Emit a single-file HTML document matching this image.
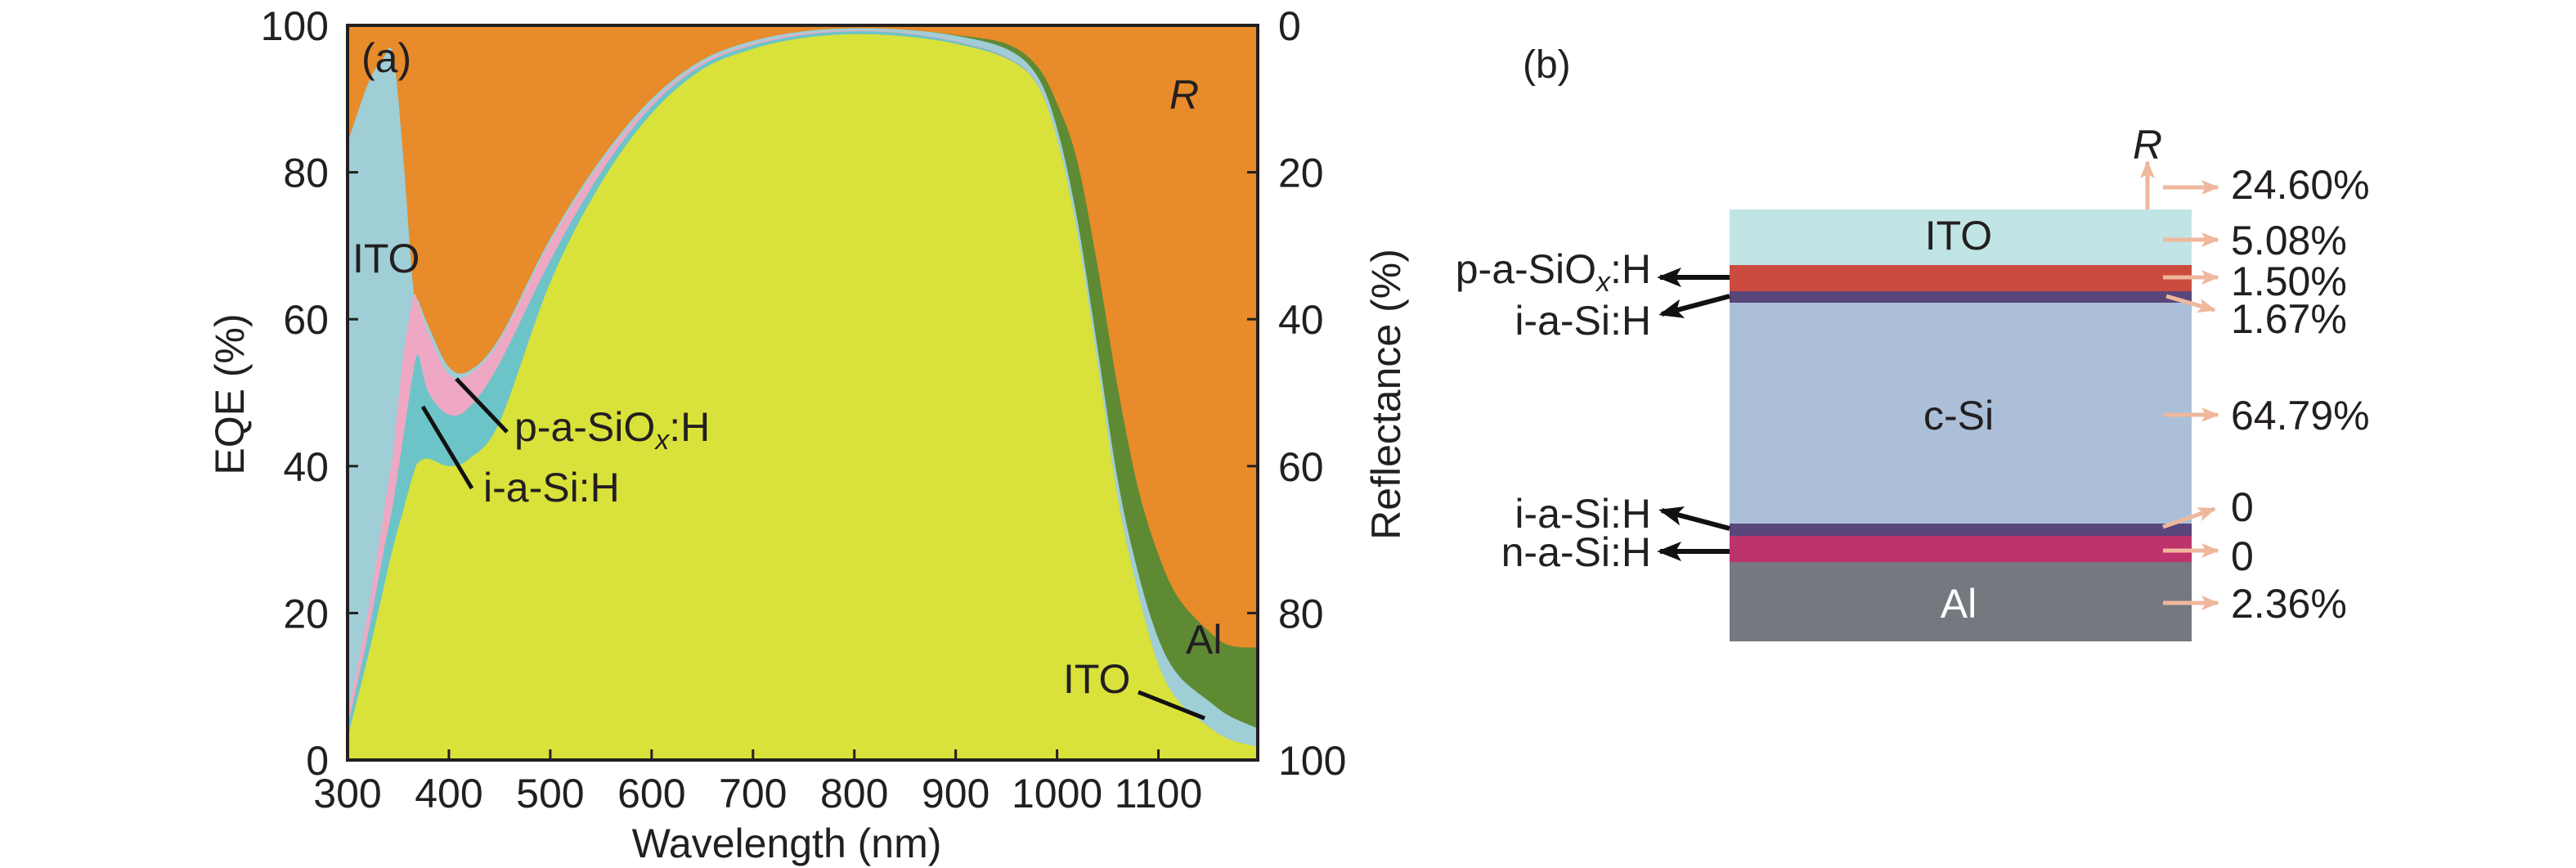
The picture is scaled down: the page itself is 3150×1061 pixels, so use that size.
<!DOCTYPE html>
<html><head><meta charset="utf-8"><style>
body{margin:0;background:#fff;}
svg{display:block;font-family:"Liberation Sans",sans-serif;}
</style></head><body>
<svg id="fig" width="3150" height="1061" viewBox="0 0 3150 1061">
<defs>
  <marker id="bk" markerUnits="userSpaceOnUse" markerWidth="30" markerHeight="24" refX="26" refY="12" orient="auto"><path d="M0,0 L30,12 L0,24 L7,12Z" fill="#111"/></marker>
  <marker id="pk" markerUnits="userSpaceOnUse" markerWidth="22" markerHeight="18" refX="20" refY="9" orient="auto"><path d="M0,0 L22,9 L0,18 L5,9Z" fill="#efb79c"/></marker>
</defs>
<g id="chartA"></g>
<g id="panelB">
 <text x="1862" y="95" font-size="48" fill="#231f20">(b)</text>
 <rect x="2115" y="256" width="565" height="68" fill="#c1e5e5"/>
 <rect x="2115" y="324" width="565" height="32" fill="#cb4c3f"/>
 <rect x="2115" y="356" width="565" height="14" fill="#59467a"/>
 <rect x="2115" y="370" width="565" height="270" fill="#abbfd8"/>
 <rect x="2115" y="640" width="565" height="15" fill="#59467a"/>
 <rect x="2115" y="655" width="565" height="32" fill="#bd336c"/>
 <rect x="2115" y="687" width="565" height="97" fill="#75787f"/>
 <g font-size="50" fill="#231f20" text-anchor="middle">
  <text x="2395" y="305">ITO</text>
  <text x="2395" y="525">c-Si</text>
  <text x="2395" y="755" fill="#fff">Al</text>
 </g>
 <g font-size="50" fill="#231f20" text-anchor="end">
  <text x="2019" y="346">p-a-SiO<tspan font-style="italic" font-size="34" dy="10">x</tspan><tspan dy="-10">:H</tspan></text>
  <text x="2019" y="409">i-a-Si:H</text>
  <text x="2019" y="645">i-a-Si:H</text>
  <text x="2019" y="692">n-a-Si:H</text>
 </g>
 <g stroke="#111" stroke-width="6" fill="none">
  <line x1="2115" y1="339" x2="2030" y2="339" marker-end="url(#bk)"/>
  <line x1="2115" y1="362" x2="2032" y2="384" marker-end="url(#bk)"/>
  <line x1="2115" y1="646" x2="2032" y2="624" marker-end="url(#bk)"/>
  <line x1="2115" y1="674" x2="2030" y2="674" marker-end="url(#bk)"/>
 </g>
 <g stroke="#efb79c" stroke-width="5" fill="none">
  <line x1="2626" y1="256" x2="2626" y2="198" marker-end="url(#pk)"/>
  <line x1="2645" y1="229" x2="2712" y2="229" marker-end="url(#pk)"/>
  <line x1="2645" y1="293" x2="2712" y2="293" marker-end="url(#pk)"/>
  <line x1="2645" y1="339" x2="2712" y2="339" marker-end="url(#pk)"/>
  <line x1="2649" y1="362" x2="2708" y2="379" marker-end="url(#pk)"/>
  <line x1="2645" y1="507" x2="2712" y2="507" marker-end="url(#pk)"/>
  <line x1="2645" y1="644" x2="2708" y2="622" marker-end="url(#pk)"/>
  <line x1="2645" y1="673" x2="2712" y2="673" marker-end="url(#pk)"/>
  <line x1="2645" y1="737" x2="2712" y2="737" marker-end="url(#pk)"/>
 </g>
 <text x="2626" y="194" font-size="50" font-style="italic" fill="#231f20" text-anchor="middle">R</text>
 <g font-size="50" fill="#231f20">
  <text x="2728" y="243">24.60%</text>
  <text x="2728" y="311">5.08%</text>
  <text x="2728" y="361">1.50%</text>
  <text x="2728" y="407">1.67%</text>
  <text x="2728" y="525">64.79%</text>
  <text x="2728" y="637">0</text>
  <text x="2728" y="697">0</text>
  <text x="2728" y="755">2.36%</text>
 </g>
</g>
</svg>
<script>
const wavelengths=[300,320,335,345,355,365,370,380,400,420,450,500,550,600,650,700,750,800,850,900,950,980,1000,1020,1040,1060,1080,1100,1120,1150,1170,1198];
const cSi=[3,14,23,29,34,39,40.5,41,40,41,46,65,78.5,88,94,96.8,98.3,98.8,98.5,97.5,95.5,92,84.5,71.7,54,35.6,22.8,13,8,4.5,2.8,1.8];
const iaSi=[1.5,3,5,6,10,14,14.5,9,7,7,8,3,1.5,1,0.6,0.5,0.4,0.4,0.4,0.3,0.2,0.1,0,0,0,0,0,0,0,0,0,0];
const paSiOx=[1.5,3,5,7,11,10,7,8,5.5,4.5,3,2.5,1.3,0.5,0.3,0.2,0.2,0.1,0.1,0.1,0.1,0.1,0,0,0,0,0,0,0,0,0,0];
const ito=[78,72,62.5,54,27,1,0.5,1,1,0.5,0.5,0.5,0.5,0.5,0.4,0.4,0.3,0.3,0.4,0.7,1.0,1.0,1.5,1.8,2,2.4,2.7,3.5,3.5,3.5,3.2,2.5];
const al=[0,0,0,0,0,0,0,0,0,0,0,0,0,0,0,0,0,0,0,0.1,0.7,1.3,3.4,8,11.2,12.6,11.5,11.5,10.5,9.5,9.6,11];
const xTicks=[300,400,500,600,700,800,900,1000,1100];
const yTicks=[0,20,40,60,80,100];

const NS="http://www.w3.org/2000/svg";
const g=document.getElementById('chartA');
const L=425,R=1538,T=31,B=929;
const xs=v=>L+(v-300)/(1198-300)*(R-L);
const ys=v=>B-v/100*(B-T);
function mk(tag,attrs,parent){const e=document.createElementNS(NS,tag);for(const k in attrs)e.setAttribute(k,attrs[k]);(parent||g).appendChild(e);return e;}

const bg=mk('rect',{x:L,y:T,width:R-L,height:B-T,fill:'#e88b2a'});



const layers=[cSi,iaSi,paSiOx,ito,al];
const names=['c-si-area','i-a-si-area','p-a-siox-area','ito-area','al-area'];
const colors=['#d9e23a','#6cc4c8','#eea8c4','#a0ced6','#5e8a34'];
const cum=wavelengths.map(()=>0);
const tops=[];
layers.forEach(arr=>{arr.forEach((v,i)=>cum[i]+=v);tops.push(cum.slice());});
function smoothPath(pts){
  let d='';
  for(let i=0;i<pts.length-1;i++){
    const p0=pts[Math.max(0,i-1)],p1=pts[i],p2=pts[i+1],p3=pts[Math.min(pts.length-1,i+2)];
    const c1=[p1[0]+(p2[0]-p0[0])/6,p1[1]+(p2[1]-p0[1])/6];
    const c2=[p2[0]-(p3[0]-p1[0])/6,p2[1]-(p3[1]-p1[1])/6];
    d+=' C'+c1[0].toFixed(1)+','+c1[1].toFixed(1)+' '+c2[0].toFixed(1)+','+c2[1].toFixed(1)+' '+p2[0].toFixed(1)+','+p2[1].toFixed(1);
  }
  return d;
}
for(let k=layers.length-1;k>=0;k--){
  const pts=wavelengths.map((w,i)=>[xs(w),ys(tops[k][i])]);
  let d='M'+xs(wavelengths[0])+','+ys(0)+' L'+pts[0][0]+','+pts[0][1].toFixed(1)+smoothPath(pts);
  d+=' L'+xs(wavelengths[wavelengths.length-1])+','+ys(0)+' Z';
  const p=mk('path',{d:d,fill:colors[k]});
  
  
}
const fr=mk('rect',{x:L,y:T,width:R-L,height:B-T,fill:'none',stroke:'#231f20','stroke-width':4});


xTicks.forEach(t=>{
  const l=mk('line',{x1:xs(t),x2:xs(t),y1:B,y2:B-13,stroke:'#231f20','stroke-width':3});
  
  
  const tx=mk('text',{x:xs(t),y:987,'font-size':50,'text-anchor':'middle',fill:'#231f20'});
  
  
  tx.textContent=t;
});
yTicks.forEach(t=>{
  const l=mk('line',{x1:L,x2:L+13,y1:ys(t),y2:ys(t),stroke:'#231f20','stroke-width':3});
  
  
  const l2=mk('line',{x1:R,x2:R-13,y1:ys(t),y2:ys(t),stroke:'#231f20','stroke-width':3});
  
  
  const tx=mk('text',{x:402,y:ys(t)+18,'font-size':50,'text-anchor':'end',fill:'#231f20'});
  
  
  tx.textContent=t;
  const tx2=mk('text',{x:1563,y:ys(t)+18,'font-size':50,fill:'#231f20'});
  
  
  tx2.textContent=100-t;
});
function lab(txt,x,y,name,extra){const t=mk('text',Object.assign({x:x,y:y,'font-size':50,fill:'#231f20'},extra||{}));t.innerHTML=txt;return t;}
lab('EQE (%)',0,0,'y-axis-title',{transform:'translate(298,482) rotate(-90)','text-anchor':'middle'});
lab('Reflectance (%)',0,0,'y-axis-title-right',{transform:'translate(1712,482) rotate(-90)','text-anchor':'middle'});
lab('Wavelength (nm)',962,1048,'x-axis-title',{'text-anchor':'middle'});
lab('(a)',442,88,'panel-a-label');
lab('ITO',431,333,'ito-front-label');
lab('R',1430,133,'r-area-label',{'font-style':'italic'});
lab('Al',1450,799,'al-area-label');
lab('ITO',1300,847,'ito-rear-label');
lab('p-a-SiO<tspan font-style="italic" font-size="34" dy="10">x</tspan><tspan dy="-10">:H</tspan>',629,539,'p-a-siox-area-label');
lab('i-a-Si:H',591,613,'i-a-si-area-label');
[[558,463,620,528,'p-a-siox-leader'],[517,497,577,597,'i-a-si-leader'],[1392,846,1473,878,'ito-rear-leader']].forEach(a=>{
  const l=mk('line',{x1:a[0],y1:a[1],x2:a[2],y2:a[3],stroke:'#111','stroke-width':5});
  
  
});
</script>
</body></html>
